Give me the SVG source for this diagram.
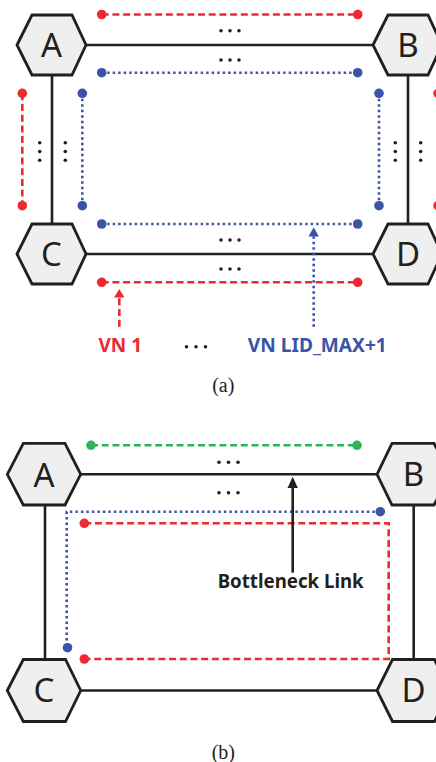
<svg xmlns="http://www.w3.org/2000/svg" width="436" height="762" viewBox="0 0 436 762">
<defs>
<style>
.hex{fill:#efefef;stroke:#231f20;stroke-width:2.8;stroke-linejoin:miter}
.lbl{font-family:"Noto Sans","Open Sans","DejaVu Sans",sans-serif;font-size:33px;fill:#231f20;text-anchor:middle}
.link{stroke:#231f20;stroke-width:2.6;fill:none}
.red{stroke:#ec2a2f;stroke-width:2.6;stroke-dasharray:7 3.7;fill:none}
.green{stroke:#2fb45a;stroke-width:2.6;stroke-dasharray:7 3.7;fill:none}
.blue{stroke:#3a54a6;stroke-width:2.6;stroke-dasharray:2.4 3.1;fill:none}
.rd{fill:#ec2a2f}.bd{fill:#3a54a6}.gd{fill:#2fb45a}.kd{fill:#231f20}
.vn{font-family:"Noto Sans","Open Sans","DejaVu Sans",sans-serif;font-weight:bold;font-size:19px;text-anchor:middle}
.cap{font-family:"Liberation Serif","Times New Roman",serif;font-size:20px;fill:#231f20;text-anchor:middle}
</style>
<circle id="e" r="1.8" class="kd"/>
</defs>

<!-- ===== (a) ===== -->
<g id="connectors-a">
<line class="link" x1="86" y1="45" x2="373" y2="45"/>
<line class="link" x1="86" y1="254" x2="373" y2="254"/>
<line class="link" x1="52" y1="75" x2="52" y2="224"/>
<line class="link" x1="408" y1="75" x2="408" y2="224"/>
</g>

<g id="virtual-networks-a">
<line class="red" x1="101.7" y1="14.5" x2="357.7" y2="14.5"/>
<circle class="rd" cx="101.7" cy="14.5" r="4.8"/><circle class="rd" cx="357.7" cy="14.5" r="4.8"/>
<line class="red" x1="101.7" y1="282.3" x2="357.7" y2="282.3"/>
<circle class="rd" cx="101.7" cy="282.3" r="4.8"/><circle class="rd" cx="357.7" cy="282.3" r="4.8"/>
<line class="red" x1="22.3" y1="93.3" x2="22.3" y2="205.7"/>
<circle class="rd" cx="22.3" cy="93.3" r="4.8"/><circle class="rd" cx="22.3" cy="205.7" r="4.8"/>
<line class="red" x1="438" y1="93.3" x2="438" y2="205.7"/>
<circle class="rd" cx="438" cy="93.3" r="4.8"/><circle class="rd" cx="438" cy="205.7" r="4.8"/>

<line class="blue" x1="101.7" y1="72.7" x2="357.7" y2="72.7"/>
<circle class="bd" cx="101.7" cy="72.7" r="4.8"/><circle class="bd" cx="357.7" cy="72.7" r="4.8"/>
<line class="blue" x1="101.7" y1="224" x2="357.7" y2="224"/>
<circle class="bd" cx="101.7" cy="224" r="4.8"/><circle class="bd" cx="357.7" cy="224" r="4.8"/>
<line class="blue" x1="82.3" y1="93.3" x2="82.3" y2="205.7"/>
<circle class="bd" cx="82.3" cy="93.3" r="4.8"/><circle class="bd" cx="82.3" cy="205.7" r="4.8"/>
<line class="blue" x1="379" y1="93.3" x2="379" y2="205.7"/>
<circle class="bd" cx="379" cy="93.3" r="4.8"/><circle class="bd" cx="379" cy="205.7" r="4.8"/>
</g>

<g id="ellipses-a">
<use href="#e" x="221" y="30.7"/><use href="#e" x="230" y="30.7"/><use href="#e" x="239" y="30.7"/>
<use href="#e" x="221" y="60"/><use href="#e" x="230" y="60"/><use href="#e" x="239" y="60"/>
<use href="#e" x="221" y="240"/><use href="#e" x="230" y="240"/><use href="#e" x="239" y="240"/>
<use href="#e" x="221" y="269"/><use href="#e" x="230" y="269"/><use href="#e" x="239" y="269"/>
<use href="#e" x="39.7" y="142.7"/><use href="#e" x="39.7" y="151.5"/><use href="#e" x="39.7" y="160.3"/>
<use href="#e" x="65.3" y="142.7"/><use href="#e" x="65.3" y="151.5"/><use href="#e" x="65.3" y="160.3"/>
<use href="#e" x="395.3" y="142.7"/><use href="#e" x="395.3" y="151.5"/><use href="#e" x="395.3" y="160.3"/>
<use href="#e" x="420.7" y="142.7"/><use href="#e" x="420.7" y="151.5"/><use href="#e" x="420.7" y="160.3"/>
<use href="#e" x="186.5" y="346.7"/><use href="#e" x="196" y="346.7"/><use href="#e" x="205.5" y="346.7"/>
</g>

<g id="node-A-a"><polygon class="hex" points="17,45 32,15 72,15 86,45 72,75 32,75"/><text class="lbl" x="51.5" y="56.5">A</text></g>
<g id="node-B-a"><polygon class="hex" points="373,45 388,15 428,15 442,45 428,75 388,75"/><text class="lbl" x="408" y="56.5">B</text></g>
<g id="node-C-a"><polygon class="hex" points="17,254 32,224 72,224 86,254 72,284 32,284"/><text class="lbl" x="51.5" y="265.5">C</text></g>
<g id="node-D-a"><polygon class="hex" points="373,254 388,224 428,224 442,254 428,284 388,284"/><text class="lbl" x="408" y="265.5">D</text></g>

<g id="label-vn1">
<line class="red" x1="119.3" y1="326.7" x2="119.3" y2="296"/>
<polygon class="rd" points="119.3,289 124.5,297.5 114.1,297.5"/>
<text class="vn" x="120.3" y="351.7" fill="#ec2a2f">VN 1</text>
</g>
<g id="label-vnmax">
<line class="blue" x1="313.7" y1="326.7" x2="313.7" y2="235"/>
<polygon class="bd" points="313.7,227.3 318.9,236.5 308.5,236.5"/>
<text class="vn" x="317.3" y="352.3" fill="#3a54a6" textLength="139" lengthAdjust="spacingAndGlyphs">VN LID_MAX+1</text>
</g>
<text class="cap" x="223.3" y="392">(a)</text>

<!-- ===== (b) ===== -->
<g id="connectors-b">
<line class="link" x1="80.7" y1="474.3" x2="377" y2="474.3"/>
<line class="link" x1="80.7" y1="690.5" x2="377" y2="690.5"/>
<line class="link" x1="45" y1="505" x2="45" y2="659.5"/>
<line class="link" x1="413.7" y1="505" x2="413.7" y2="659.5"/>
</g>

<g id="virtual-networks-b">
<line class="green" x1="91" y1="445.3" x2="357" y2="445.3"/>
<circle class="gd" cx="91" cy="445.3" r="4.8"/><circle class="gd" cx="357" cy="445.3" r="4.8"/>
<polyline class="blue" points="380.3,511.7 66.7,511.7 66.7,647.7"/>
<circle class="bd" cx="380.3" cy="511.7" r="4.8"/><circle class="bd" cx="67.5" cy="647.7" r="4.8"/>
<polyline class="red" points="84.3,523.3 388.7,523.3 388.7,659 84.3,659"/>
<circle class="rd" cx="84.3" cy="523.3" r="4.8"/><circle class="rd" cx="84.3" cy="659" r="4.8"/>
</g>

<g id="ellipses-b">
<use href="#e" x="219" y="462.3"/><use href="#e" x="228.5" y="462.3"/><use href="#e" x="238" y="462.3"/>
<use href="#e" x="219" y="492.7"/><use href="#e" x="228.5" y="492.7"/><use href="#e" x="238" y="492.7"/>
</g>

<g id="node-A-b"><polygon class="hex" points="7.3,474.3 23.3,443.3 65,443.3 80.7,474.3 65,505 23.3,505"/><text class="lbl" x="44" y="486.5" font-size="35">A</text></g>
<g id="node-B-b"><polygon class="hex" points="377,474.3 392,443.3 434,443.3 450,474.3 434,505 392,505"/><text class="lbl" x="413.5" y="486" font-size="35">B</text></g>
<g id="node-C-b"><polygon class="hex" points="7.3,690.5 23.3,659.5 65.5,659.5 80.7,690.5 65.5,721.5 23.3,721.5"/><text class="lbl" x="44" y="702" font-size="35">C</text></g>
<g id="node-D-b"><polygon class="hex" points="377,690.5 392.5,659.5 434.5,659.5 450,690.5 434.5,721.5 392.5,721.5"/><text class="lbl" x="413.5" y="702" font-size="35">D</text></g>

<g id="label-bottleneck">
<line class="link" x1="292.7" y1="572.7" x2="292.7" y2="486"/>
<polygon class="kd" points="292.7,476.7 297.9,488 287.5,488"/>
<text class="vn" x="290.7" y="588.3" fill="#231f20" font-size="18.5" textLength="146" lengthAdjust="spacingAndGlyphs">Bottleneck Link</text>
</g>
<text class="cap" x="223.3" y="759">(b)</text>
</svg>
